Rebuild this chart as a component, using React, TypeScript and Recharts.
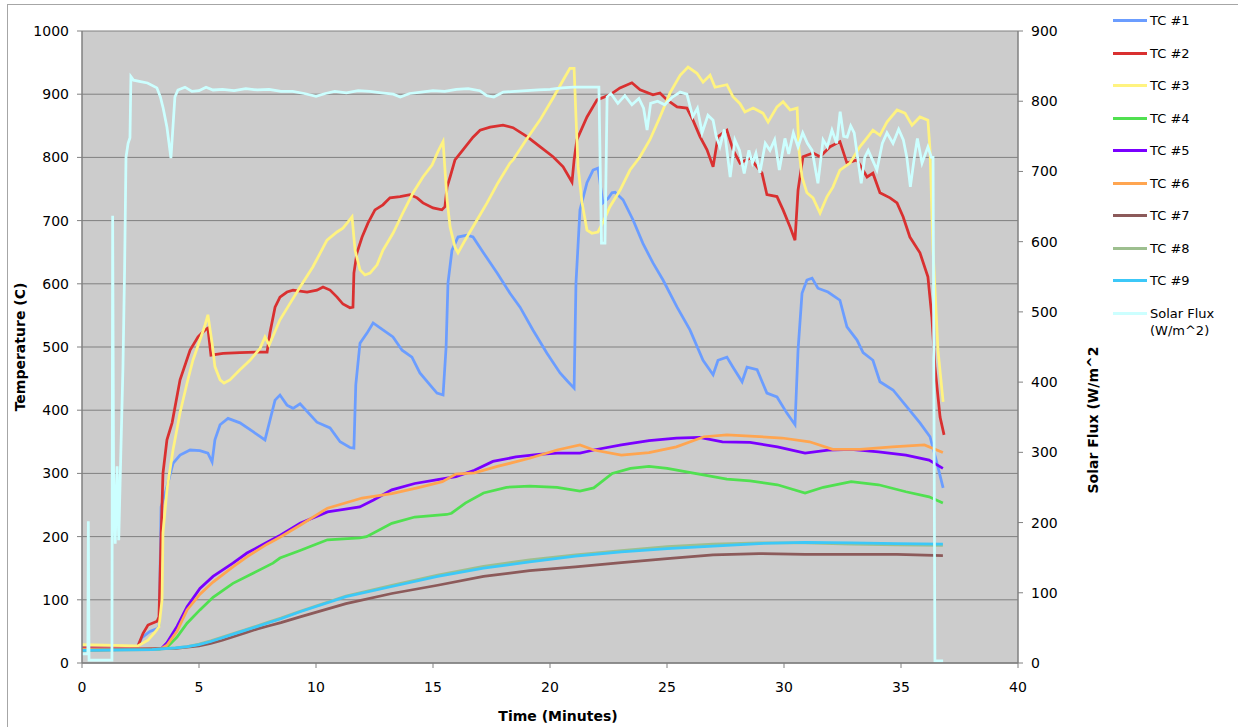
import React from 'react';
import { LineChart, Line, XAxis, YAxis, CartesianGrid } from 'recharts';

type P = [number, number];

const xTicks = [0, 5, 10, 15, 20, 25, 30, 35, 40];
const tempTicks = [0, 100, 200, 300, 400, 500, 600, 700, 800, 900, 1000];
const fluxTicks = [0, 100, 200, 300, 400, 500, 600, 700, 800, 900];

const seriesNames = ['TC #1', 'TC #2', 'TC #3', 'TC #4', 'TC #5', 'TC #6', 'TC #7', 'TC #8', 'TC #9', 'Solar Flux\n(W/m^2)'];
const seriesColors = ['#6B9DFF', '#D93030', '#FFF380', '#50E050', '#7A00FF', '#FFA550', '#8C5A5A', '#9DBF8F', '#3CC8F8', '#CCFFFF'];

const tc1: P[] = [[0,21],[2.31,22],[2.56,40],[2.9,50],[3.25,55],[3.3,60],[3.38,247],[3.63,279],[3.89,316],[4.19,329],[4.62,337],[5.04,336],[5.38,332],[5.56,318],[5.68,353],[5.9,377],[6.24,387],[6.75,380],[7.31,366],[7.82,353],[7.95,372],[8.25,416],[8.46,424],[8.76,408],[9.02,403],[9.32,410],[10.04,381],[10.6,372],[11.03,350],[11.45,341],[11.62,340],[11.7,440],[11.88,506],[12.18,522],[12.44,538],[12.86,527],[13.29,516],[13.68,495],[14.1,484],[14.44,459],[14.87,440],[15.17,427],[15.43,424],[15.56,500],[15.64,601],[15.81,653],[16.07,674],[16.45,677],[16.71,674],[17.14,650],[17.74,617],[18.29,585],[18.72,563],[19.27,527],[19.87,490],[20.43,459],[20.77,445],[21.03,435],[21.11,601],[21.28,717],[21.58,760],[21.84,780],[22.05,783],[22.26,728],[22.48,735],[22.65,744],[22.78,745],[23.12,733],[23.55,701],[23.97,664],[24.4,633],[24.83,606],[25.43,563],[25.98,527],[26.54,479],[26.97,456],[27.18,479],[27.56,484],[27.82,468],[28.21,445],[28.42,468],[28.85,464],[29.27,427],[29.7,421],[30.13,395],[30.47,377],[30.6,495],[30.77,585],[30.98,606],[31.2,609],[31.45,593],[31.88,587],[32.39,574],[32.69,532],[33.12,511],[33.38,491],[33.8,479],[34.1,445],[34.66,432],[35.26,405],[35.81,380],[36.24,358],[36.54,316],[36.8,277]];

const tc2: P[] = [[0,24],[2.31,24],[2.39,27],[2.61,47],[2.82,60],[3.21,66],[3.29,73],[3.38,200],[3.46,300],[3.63,353],[3.85,380],[4.19,448],[4.62,495],[4.96,516],[5.26,527],[5.38,530],[5.51,487],[6.03,490],[6.75,491],[7.61,492],[7.91,492],[8.03,522],[8.25,563],[8.46,579],[8.76,587],[9.02,590],[9.62,587],[10.04,590],[10.3,595],[10.6,590],[10.9,579],[11.15,568],[11.45,562],[11.58,563],[11.62,617],[11.75,649],[11.97,674],[12.22,696],[12.52,717],[12.86,725],[13.16,736],[13.59,738],[14.02,741],[14.32,736],[14.57,728],[15.0,720],[15.38,717],[15.51,722],[15.6,753],[15.73,769],[15.94,796],[16.28,812],[16.71,832],[17.01,843],[17.44,848],[17.99,851],[18.42,847],[19.02,833],[19.57,817],[20.13,801],[20.56,785],[20.94,761],[21.03,796],[21.15,828],[21.58,864],[22.01,891],[22.56,899],[22.99,910],[23.5,918],[23.85,907],[24.4,899],[24.7,902],[25.0,891],[25.43,880],[25.85,878],[26.11,859],[26.41,833],[26.71,812],[26.97,785],[27.18,833],[27.56,843],[27.82,812],[28.12,791],[28.55,799],[29.06,775],[29.27,741],[29.7,738],[29.96,717],[30.26,690],[30.47,669],[30.6,748],[30.81,801],[31.24,807],[31.54,801],[31.97,817],[32.39,825],[32.69,791],[33.12,796],[33.55,769],[33.8,775],[34.1,744],[34.53,736],[34.83,728],[35.09,706],[35.38,674],[35.81,649],[36.15,611],[36.32,547],[36.45,469],[36.67,389],[36.84,361]];

const tc3: P[] = [[0,29],[2.3,27],[2.39,27],[2.82,36],[3.12,49],[3.29,57],[3.42,100],[3.46,206],[3.63,274],[3.89,337],[4.19,396],[4.49,443],[4.74,479],[5.04,511],[5.26,535],[5.38,551],[5.56,506],[5.68,469],[5.9,448],[6.07,443],[6.32,448],[6.75,464],[7.18,479],[7.61,498],[7.82,516],[8.0,503],[8.46,543],[8.89,569],[9.32,595],[9.87,627],[10.47,669],[10.9,682],[11.15,688],[11.37,698],[11.54,706],[11.67,653],[11.88,622],[12.09,614],[12.31,617],[12.61,630],[12.86,653],[13.29,680],[13.71,712],[14.15,744],[14.57,769],[14.96,788],[15.21,809],[15.43,825],[15.6,733],[15.73,690],[15.94,658],[16.07,649],[16.37,669],[16.88,701],[17.31,728],[17.78,760],[18.29,791],[18.42,796],[19.02,830],[19.57,859],[20.13,894],[20.56,922],[20.85,941],[21.03,941],[21.11,864],[21.2,785],[21.37,728],[21.58,685],[21.79,680],[22.05,682],[22.3,700],[22.56,722],[22.99,748],[23.42,780],[23.85,801],[24.27,828],[24.7,864],[25.13,902],[25.56,930],[25.9,943],[26.28,933],[26.54,919],[26.84,930],[27.05,911],[27.56,915],[27.82,896],[28.12,885],[28.33,872],[28.68,878],[29.1,870],[29.32,856],[29.7,880],[29.96,888],[30.26,875],[30.56,878],[30.64,812],[30.77,769],[30.98,744],[31.24,736],[31.54,712],[31.84,738],[32.09,753],[32.39,780],[32.82,791],[33.25,817],[33.59,833],[33.8,843],[34.1,835],[34.4,856],[34.83,875],[35.17,870],[35.47,851],[35.81,864],[36.15,859],[36.24,812],[36.37,653],[36.58,495],[36.8,413]];

const tc4: P[] = [[0,21],[3.3,22],[3.63,25],[4.06,41],[4.49,63],[5.04,84],[5.6,104],[6.45,126],[7.31,142],[8.16,158],[8.46,166],[9.32,178],[10.0,188],[10.49,195],[11.87,198],[12.16,200],[13.24,221],[14.22,231],[15.59,235],[15.79,237],[16.38,253],[17.16,269],[18.14,278],[19.13,280],[20.3,278],[21.28,272],[21.87,277],[22.66,300],[23.44,308],[24.23,311],[25.01,308],[26.19,300],[27.56,291],[28.55,288],[29.72,282],[30.9,269],[31.68,278],[32.87,287],[34.04,282],[35.21,271],[36.2,263],[36.79,253]];

const tc5: P[] = [[0,22],[3.4,23],[3.63,32],[4.06,58],[4.49,89],[5.04,118],[5.6,137],[6.45,158],[7.05,174],[7.91,191],[8.46,202],[9.32,221],[10.49,239],[11.87,247],[12.46,258],[13.24,274],[14.22,284],[15.2,290],[15.98,295],[16.77,305],[17.56,319],[18.54,326],[19.52,330],[20.3,332],[21.28,332],[21.87,337],[23.05,345],[24.23,352],[25.4,356],[26.39,357],[27.37,350],[28.55,349],[29.72,342],[30.9,332],[31.88,337],[32.87,338],[34.04,334],[35.21,329],[36.2,321],[36.79,308]];

const tc6: P[] = [[0,22],[3.4,23],[3.63,28],[4.06,50],[4.49,84],[5.04,109],[5.6,128],[6.45,152],[7.05,168],[7.91,188],[8.46,199],[9.32,218],[10.49,245],[11.97,261],[13.24,268],[14.42,278],[15.4,287],[15.98,299],[16.77,301],[17.75,311],[19.13,324],[20.3,337],[21.28,345],[21.87,337],[23.05,329],[24.23,333],[25.4,342],[26.58,358],[27.56,361],[28.55,359],[29.92,356],[31.09,350],[32.08,338],[33.25,338],[34.63,342],[36.0,345],[36.79,333]];

const tc7: P[] = [[0,20],[4.0,23],[5.0,27],[5.5,31],[6.0,36],[6.5,42],[7.0,48],[7.5,54],[8.0,59],[8.5,64],[9.32,73],[11.28,94],[13.24,110],[15.2,123],[17.16,137],[19.13,146],[21.09,152],[23.05,159],[25.01,165],[26.97,171],[28.94,173],[30.9,172],[32.87,172],[34.83,172],[36.79,170]];

const tc8: P[] = [[0,20],[3.0,21],[4.0,24],[4.5,26],[5.0,30],[5.5,35],[6.0,41],[6.5,47],[7.0,53],[7.5,59],[8.0,65],[8.5,71],[9.32,82],[11.28,106],[13.24,123],[15.2,139],[17.16,153],[19.13,163],[21.09,171],[23.05,178],[25.01,184],[26.97,188],[28.94,190],[30.9,190],[32.87,188],[34.83,187],[36.79,186]];

const tc9: P[] = [[0,20],[3.0,21],[4.0,24],[4.5,26],[5.0,29],[5.5,34],[6.0,40],[6.5,46],[7.0,52],[7.5,58],[8.0,64],[8.5,70],[9.32,81],[11.28,105],[13.24,121],[15.2,137],[17.16,150],[19.13,160],[21.09,169],[23.05,176],[25.01,181],[26.97,185],[28.94,189],[30.9,191],[32.87,190],[34.83,189],[36.79,188]];

const solarFlux: P[] = [[0,13],[0.25,13],[0.27,202],[0.3,4],[1.28,4],[1.31,637],[1.35,270],[1.42,170],[1.5,280],[1.57,175],[1.66,300],[1.75,421],[1.82,560],[1.88,720],[1.97,740],[2.05,748],[2.09,835],[2.2,830],[2.5,828],[2.8,826],[3.2,819],[3.35,806],[3.47,790],[3.63,763],[3.8,719],[3.97,806],[4.1,816],[4.4,820],[4.7,814],[5.0,815],[5.3,820],[5.6,816],[6.0,817],[6.5,815],[7.0,818],[7.5,816],[8.0,817],[8.5,814],[9.0,814],[9.5,811],[10.0,807],[10.4,811],[10.8,814],[11.3,812],[11.8,815],[12.3,814],[12.8,812],[13.3,810],[13.6,806],[14.0,811],[14.5,813],[15.0,815],[15.5,814],[16.0,817],[16.5,818],[17.0,815],[17.3,808],[17.6,806],[18.0,813],[18.5,814],[19.0,815],[19.5,816],[20.0,817],[20.5,819],[21.0,820],[21.5,820],[22.09,820],[22.2,598],[22.35,598],[22.44,806],[22.6,811],[22.9,797],[23.2,808],[23.5,795],[23.8,804],[24.0,790],[24.15,759],[24.3,797],[24.6,800],[24.9,795],[25.2,805],[25.56,813],[25.85,810],[26.1,778],[26.3,790],[26.5,755],[26.75,780],[26.97,773],[27.1,750],[27.26,735],[27.45,760],[27.7,692],[27.9,745],[28.1,730],[28.3,697],[28.5,730],[28.65,712],[28.8,726],[28.97,698],[29.2,740],[29.4,730],[29.6,745],[29.8,702],[30.04,747],[30.2,725],[30.4,755],[30.6,735],[30.8,755],[31.0,740],[31.2,730],[31.45,683],[31.67,745],[31.85,735],[32.05,759],[32.25,740],[32.4,785],[32.55,750],[32.7,749],[32.85,765],[33.0,755],[33.3,683],[33.45,720],[33.6,730],[33.8,715],[33.97,702],[34.2,740],[34.4,755],[34.66,740],[34.9,760],[35.1,745],[35.25,720],[35.4,678],[35.55,715],[35.7,747],[35.9,712],[36.15,735],[36.3,720],[36.37,720],[36.45,3],[36.8,3]];

const seriesData: P[][] = [tc1, tc2, tc3, tc4, tc5, tc6, tc7, tc8, tc9, solarFlux];

const toRows = (pts: P[]) => pts.map(([t, v]) => ({ t, v }));

const FONT = '"DejaVu Sans", Verdana, sans-serif';

export default function App() {
  return (
    <div style={{ position: 'absolute', left: 0, top: 0, width: 1238, height: 727, overflow: 'hidden', background: '#fff', fontFamily: FONT }}>
      <div style={{ position: 'absolute', left: 7, top: 4, right: 0, bottom: 0, borderLeft: '1px solid #a6a6a6', borderTop: '1px solid #a6a6a6' }} />
      <div style={{ position: 'absolute', left: 0, top: 0 }}>
        <LineChart width={1238} height={727} margin={{ top: 31, right: 160, bottom: 34, left: 0 }}>
          <CartesianGrid yAxisId="left" vertical={false} horizontal fill="#cccccc" stroke="#808080" strokeWidth={1} />
          <XAxis
            dataKey="t"
            type="number"
            domain={[0, 40]}
            ticks={xTicks}
            allowDuplicatedCategory={false}
            height={30}
            tickSize={5}
            tickMargin={14}
            axisLine={{ stroke: '#808080', strokeWidth: 1.5 }}
            tickLine={{ stroke: '#808080' }}
            tick={{ fill: '#000', fontSize: 14, fontFamily: FONT }}
          />
          <YAxis
            yAxisId="left"
            orientation="left"
            domain={[0, 1000]}
            ticks={tempTicks}
            width={82}
            tickSize={5}
            tickMargin={8}
            axisLine={{ stroke: '#808080', strokeWidth: 1.5 }}
            tickLine={{ stroke: '#808080' }}
            tick={{ fill: '#000', fontSize: 14, fontFamily: FONT }}
          />
          <YAxis
            yAxisId="right"
            orientation="right"
            domain={[0, 900]}
            ticks={fluxTicks}
            width={60}
            tickSize={5}
            tickMargin={8}
            axisLine={{ stroke: '#808080', strokeWidth: 1.5 }}
            tickLine={{ stroke: '#808080' }}
            tick={{ fill: '#000', fontSize: 14, fontFamily: FONT }}
          />
          {seriesData.map((pts, i) => (
            <Line
              key={seriesNames[i]}
              name={seriesNames[i]}
              yAxisId={i === 9 ? 'right' : 'left'}
              data={toRows(pts)}
              dataKey="v"
              type="linear"
              stroke={seriesColors[i]}
              strokeWidth={2.75}
              dot={false}
              activeDot={false}
              isAnimationActive={false}
            />
          ))}
        </LineChart>
      </div>
      <div style={{ position: 'absolute', left: -80, top: 338, width: 200, height: 18, lineHeight: '18px', textAlign: 'center', fontWeight: 'bold', fontSize: 14, transform: 'rotate(-90deg)' }}>
        Temperature (C)
      </div>
      <div style={{ position: 'absolute', left: 993, top: 411, width: 200, height: 18, lineHeight: '18px', textAlign: 'center', fontWeight: 'bold', fontSize: 14, transform: 'rotate(-90deg)' }}>
        Solar Flux (W/m^2
      </div>
      <div style={{ position: 'absolute', left: 458, top: 707, width: 200, height: 18, lineHeight: '18px', textAlign: 'center', fontWeight: 'bold', fontSize: 14 }}>
        Time (Minutes)
      </div>
      {seriesNames.map((name, i) => (
        <div key={name} style={{ position: 'absolute', left: 1113, top: 12 + i * 32.5, display: 'flex', alignItems: 'flex-start' }}>
          <div style={{ width: 34, height: 3, marginTop: 7, background: seriesColors[i], flexShrink: 0 }} />
          <div style={{ marginLeft: 3, fontSize: 13, lineHeight: '17px', whiteSpace: 'pre-line', color: '#000' }}>{name}</div>
        </div>
      ))}
    </div>
  );
}
